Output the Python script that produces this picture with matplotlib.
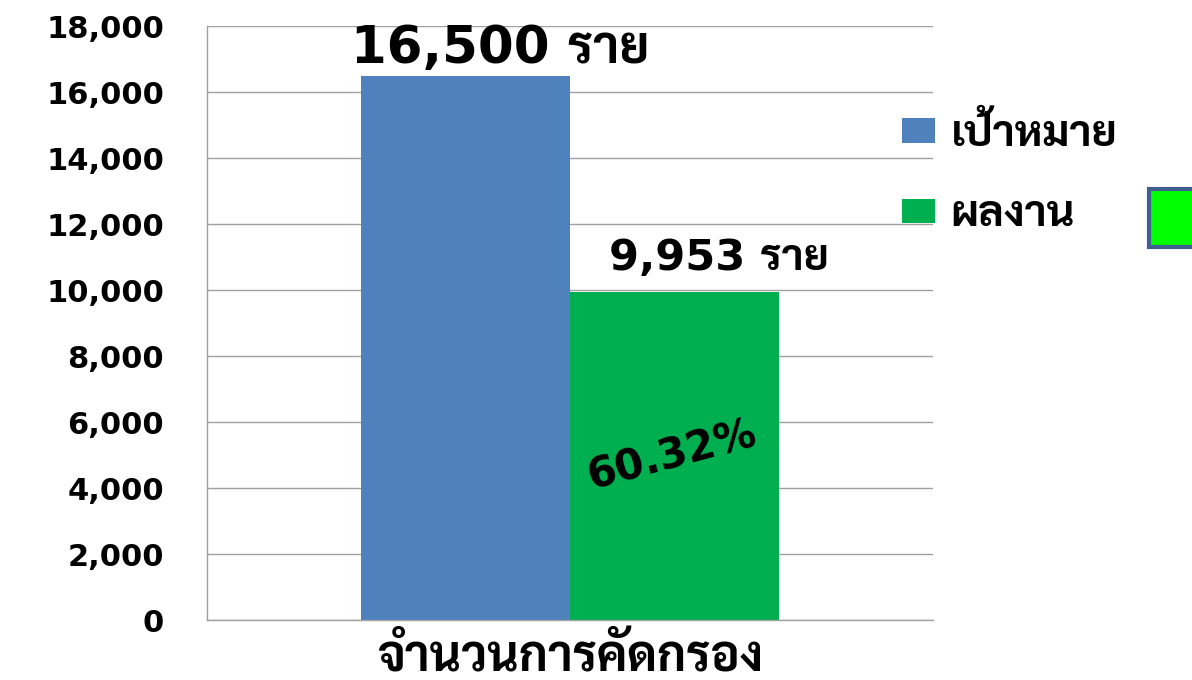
import matplotlib
matplotlib.use('Agg')
from matplotlib import pyplot as plt
from matplotlib.patches import Rectangle

plt.rcParams['font.family'] = ['DejaVu Sans', 'Sarabun', 'Noto Sans Thai Looped', 'Noto Sans Thai']

category = 'จำนวนการคัดกรอง'
series_names = ['เป้าหมาย', 'ผลงาน']
values = [16500, 9953]
bar_labels = ['16,500 ราย', '9,953 ราย']
percent_label = '60.32%'
yticks = list(range(0, 18001, 2000))

colors = ['#4F81BD', '#00B050']

fig = plt.figure(figsize=(11.92, 6.8), dpi=100)
ax = fig.add_axes([207 / 1192, 1 - 620 / 680, 726 / 1192, 594 / 680])

width = 0.288
offsets = [-width / 2, width / 2]
for name, v, c, off in zip(series_names, values, colors, offsets):
    ax.bar(off, v, width=width, color=c, label=name, zorder=2)

ax.set_xlim(-0.5, 0.5)
ax.set_ylim(0, 18000)
ax.set_yticks(yticks)
ax.set_yticklabels(['{:,}'.format(t) for t in yticks], fontsize=22, fontweight='bold')
ax.tick_params(axis='y', length=0, pad=31)
ax.set_xticks([])
ax.grid(axis='y', color='#a0a0a0', linewidth=1, zorder=0)
for s in ['top', 'right']:
    ax.spines[s].set_visible(False)
for s in ['left', 'bottom']:
    ax.spines[s].set_color('#a0a0a0')
    ax.spines[s].set_linewidth(1)

# value labels above the bars
ax.text(-0.096, values[0] + 390, bar_labels[0], ha='center', va='baseline',
        fontsize=37, fontweight='bold')
ax.text(0.205, values[1] + 640, bar_labels[1], ha='center', va='baseline',
        fontsize=31, fontweight='bold')
ax.text(0.14, 5000, percent_label, ha='center', va='center',
        fontsize=30, fontweight='bold', rotation=15)

# category label under the axis
fig.text(570 / 1192, 1 - 672 / 680, category, ha='center', va='baseline',
         fontsize=35, fontweight='bold')

# legend
fig.legend(loc='upper left', bbox_to_anchor=(863 / 1192, 1 - 74 / 680),
           frameon=False, prop={'weight': 'bold', 'size': 31},
           handlelength=0.78, handleheight=0.5, handletextpad=0.35,
           labelspacing=0.9)

# bright green box at the right edge
fig.patches.append(Rectangle((1149 / 1192, 1 - 247 / 680), 60 / 1192, 58 / 680,
                             transform=fig.transFigure, facecolor='#00FF00',
                             edgecolor='#3F5F8F', linewidth=3))

plt.savefig('out.png', dpi=100)
